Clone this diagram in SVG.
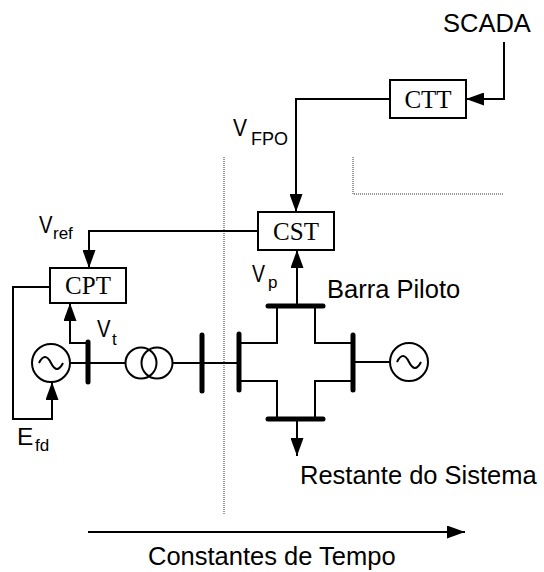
<svg xmlns="http://www.w3.org/2000/svg" width="544" height="572" viewBox="0 0 544 572">
<style>
.w{fill:none;stroke:#000;stroke-width:2}
.bus{fill:none;stroke:#000;stroke-width:5;stroke-linecap:round}
.dot{fill:none;stroke:#333;stroke-width:1;stroke-dasharray:1 1}
.box{fill:#fff;stroke:#000;stroke-width:2}
.t{font-family:"Liberation Sans",Arial,sans-serif;font-size:25.5px;fill:#000}
.v{font-family:"Liberation Sans",Arial,sans-serif;font-size:24.5px;fill:#000}
.s{font-family:"Liberation Sans",Arial,sans-serif;font-size:17px;fill:#000}
.bt{font-family:"Liberation Serif","Times New Roman",serif;font-size:25px;fill:#000;text-anchor:middle}
</style>
<defs>
<marker id="ah" markerWidth="18" markerHeight="13" refX="18" refY="6.5" orient="auto" markerUnits="userSpaceOnUse">
<path d="M0,0 L18,6.5 L0,13 Z" fill="#000"/>
</marker>
</defs>
<g id="dotted">
<path class="dot" d="M224,157 V515"/>
<path class="dot" d="M353,157 V194 H503"/>
</g>
<g id="connectors">
<path class="w" d="M504,42 V99 H466" marker-end="url(#ah)"/>
<path class="w" d="M390,99 H296 V212" marker-end="url(#ah)"/>
<path class="w" d="M258,231 H89 V268" marker-end="url(#ah)"/>
<path class="w" d="M297,306 V250" marker-end="url(#ah)"/>
<path class="w" d="M88,343 H70 V303" marker-end="url(#ah)"/>
<path class="w" d="M50,287 H13 V419 H52 V382" marker-end="url(#ah)"/>
<path class="w" d="M297,419 V456" marker-end="url(#ah)"/>
<path class="w" d="M70,363 H88 M88,363 H125.5 M172.5,363 H202 M202,363 H239 M353,362 H390"/>
<path class="w" d="M239,343 H277 V306 M315,306 V343 H353 M239,381 H277 V419 M315,419 V381 H353"/>
<path class="w" d="M88,532 H465" marker-end="url(#ah)"/>
</g>
<g id="CTT"><rect class="box" x="390" y="80" width="76" height="38"/><text class="bt" x="428" y="108">CTT</text></g>
<g id="CST"><rect class="box" x="258" y="212" width="76" height="38"/><text class="bt" x="296" y="240">CST</text></g>
<g id="CPT"><rect class="box" x="50" y="268" width="76" height="35"/><text class="bt" x="88" y="294">CPT</text></g>
<g id="gen1"><circle class="w" cx="51" cy="363" r="19"/><path class="w" d="M39,363 Q45,351 51,363 T63,363"/></g>
<g id="gen2"><circle class="w" cx="409" cy="362" r="19"/><path class="w" d="M397,362 Q403,350 409,362 T421,362"/></g>
<g id="transformer"><circle class="w" cx="141" cy="363" r="15.5"/><circle class="w" cx="157" cy="363" r="15.5"/></g>
<g id="buses">
<path class="bus" d="M88,342 V382"/>
<path class="bus" d="M202,335 V391"/>
<path class="bus" d="M239,334 V390"/>
<path class="bus" d="M353,335 V390"/>
<path class="bus" d="M268,306 H323"/>
<path class="bus" d="M268,419 H323"/>
</g>
<g id="labels">
<text class="t" x="443" y="32">SCADA</text>
<text class="v" x="233" y="136" textLength="14" lengthAdjust="spacingAndGlyphs">V</text><text class="s" x="251" y="145" style="font-size:18px">FPO</text>
<text class="v" x="39" y="233" textLength="13.5" lengthAdjust="spacingAndGlyphs">V</text><text class="s" x="53" y="239">ref</text>
<text class="v" x="252" y="282" textLength="13" lengthAdjust="spacingAndGlyphs">V</text><text class="s" x="268" y="288">p</text>
<text class="t" x="327" y="298">Barra Piloto</text>
<text class="v" x="97" y="337" textLength="13.5" lengthAdjust="spacingAndGlyphs">V</text><text class="s" x="112" y="345">t</text>
<text class="v" x="17" y="445">E</text><text class="s" x="35" y="451">fd</text>
<text class="t" x="300" y="484">Restante do Sistema</text>
<text class="t" x="148" y="565">Constantes de Tempo</text>
</g>
</svg>
